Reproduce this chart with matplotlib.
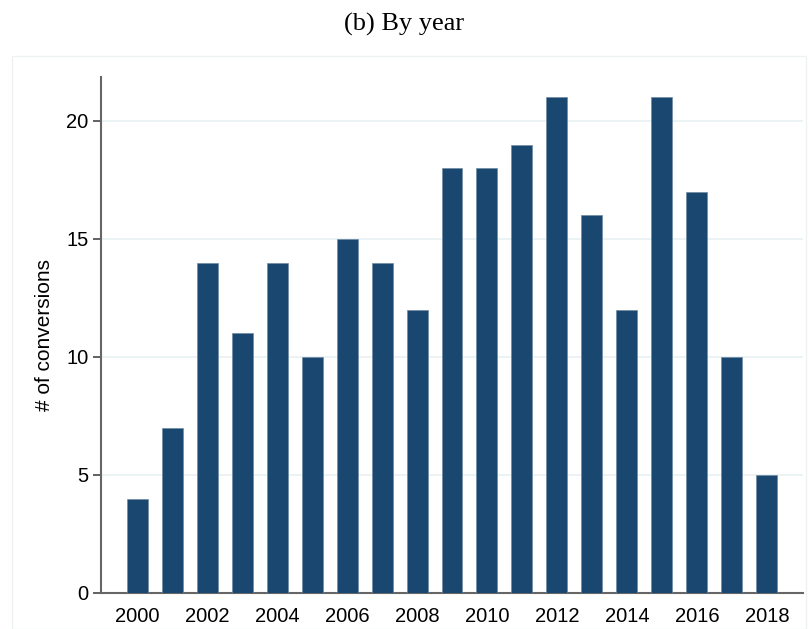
import numpy as np
import matplotlib.pyplot as plt
from matplotlib.patches import Rectangle

years = np.arange(2000, 2019)
conversions = [4, 7, 14, 11, 14, 10, 15, 14, 12, 18, 18, 19, 21, 16, 12, 21, 17, 10, 5]
xticks = np.arange(2000, 2019, 2)
yticks = [0, 5, 10, 15, 20]

plt.rcParams['font.family'] = ['Liberation Sans', 'DejaVu Sans']

fig = plt.figure(figsize=(8.09, 6.29), dpi=100)
# faint outer frame (Stata graph region)
fig.patches.append(Rectangle((12/809, 0), 794/809, 1 - 56/629, transform=fig.transFigure,
                             fill=False, edgecolor='#eef2f2', linewidth=1))
ax = fig.add_axes([101/809, 36/629, 702/809, 516/629])

ax.bar(years, conversions, width=0.6, color='#1a476f', edgecolor='#6f8aa3', linewidth=0.5, zorder=3)

ax.set_xlim(1998.97, 2019.03)
ax.set_ylim(0, 21.86)
ax.set_xticks(xticks)
ax.set_yticks(yticks)
ax.tick_params(axis='x', length=0, labelsize=14.5, pad=10)
ax.tick_params(axis='y', length=6, width=1.3, color='#555555', labelsize=14.5, pad=3)
ax.grid(axis='y', color='#eaf2f3', linewidth=1.3, zorder=0)
for s in ['top', 'right']:
    ax.spines[s].set_visible(False)
for s in ['left', 'bottom']:
    ax.spines[s].set_color('#666666')
    ax.spines[s].set_linewidth(1.5)
ax.set_ylabel('# of conversions', fontsize=15, labelpad=9)

fig.text(0.5, 1 - 24/629, '(b) By year', ha='center', va='center', fontsize=19,
         family=['Liberation Serif', 'DejaVu Serif'])

fig.savefig('out.png', dpi=100)
